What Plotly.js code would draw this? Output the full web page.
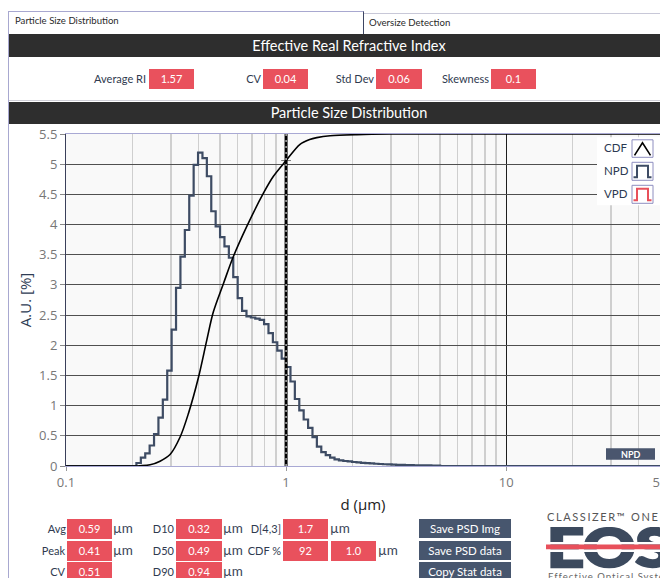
<!DOCTYPE html>
<html><head><meta charset="utf-8">
<script src="https://cdn.plot.ly/plotly-3.0.1.min.js"></script>
<style>
html,body{margin:0;padding:0;background:#fff;}
body{width:660px;height:578px;overflow:hidden;position:relative;font-family:Lato,"Noto Sans",sans-serif;color:#2f3a4f;}
.a{position:absolute;white-space:nowrap;}
.hdr{position:absolute;left:9px;width:680px;background:#2e2e2e;color:#fff;text-align:center;font-size:14.5px;}
.red{position:absolute;background:#e9515d;color:#fff;font-size:11px;text-align:center;line-height:20px;height:20px;}
.lbl{position:absolute;font-size:11px;color:#2f3a4f;text-align:right;line-height:20px;height:20px;white-space:nowrap;}
.um{position:absolute;font-size:13.5px;color:#3b4659;line-height:20px;height:20px;}
.btn{position:absolute;left:419px;width:92px;height:19px;line-height:19px;background:#47566e;color:#fff;font-size:11.5px;text-align:center;}
</style></head>
<body>
<!-- tabs -->
<div class="a" style="left:8px;top:11px;width:354px;height:22px;border-top:1px solid #a8a8d0;border-left:1px solid #a8a8d0;border-right:1px solid #3d4663;background:#fff;"></div>
<div class="a" style="left:15px;top:15px;font-size:9.6px;color:#2a2a2a;">Particle Size Distribution</div>
<div class="a" style="left:364px;top:13px;width:300px;height:20px;border-top:1px solid #c8c8d8;border-bottom:1px solid #a8a8c0;background:#fff;"></div>
<div class="a" style="left:369px;top:17px;font-size:9.6px;color:#2a2a2a;">Oversize Detection</div>
<!-- left border -->
<div class="a" style="left:8px;top:33px;width:1px;height:545px;background:#a8a8d0;"></div>
<!-- header 1 -->
<div class="hdr" style="top:34px;height:23px;line-height:23px;">Effective Real Refractive Index</div>
<div class="lbl" style="left:60px;width:86px;top:69px;">Average RI</div>
<div class="red" style="left:149px;width:45px;top:69px;">1.57</div>
<div class="lbl" style="left:230px;width:31px;top:69px;">CV</div>
<div class="red" style="left:263px;width:45px;top:69px;">0.04</div>
<div class="lbl" style="left:320px;width:54px;top:69px;">Std Dev</div>
<div class="red" style="left:376px;width:46px;top:69px;">0.06</div>
<div class="lbl" style="left:430px;width:59px;top:69px;">Skewness</div>
<div class="red" style="left:491px;width:45px;top:69px;">0.1</div>
<div class="a" style="left:9px;top:100px;width:660px;height:1px;background:#d0d0d8;"></div>
<!-- header 2 -->
<div class="hdr" style="top:102px;height:22px;line-height:22px;">Particle Size Distribution</div>
<!-- chart -->
<div id="chart" class="a" style="left:9px;top:124px;width:680px;height:390px;"></div>
<!-- stats -->
<div class="lbl" style="left:20px;width:46px;top:519px;">Avg</div>
<div class="red" style="left:67px;width:45px;top:519px;">0.59</div>
<div class="um" style="left:113px;top:518px;">µm</div>
<div class="lbl" style="left:20px;width:45px;top:541px;">Peak</div>
<div class="red" style="left:67px;width:45px;top:541px;">0.41</div>
<div class="um" style="left:113px;top:540px;">µm</div>
<div class="lbl" style="left:20px;width:45px;top:562px;">CV</div>
<div class="red" style="left:67px;width:45px;top:562px;">0.51</div>

<div class="lbl" style="left:130px;width:44px;top:519px;">D10</div>
<div class="red" style="left:176px;width:46px;top:519px;">0.32</div>
<div class="um" style="left:223px;top:518px;">µm</div>
<div class="lbl" style="left:130px;width:44px;top:541px;">D50</div>
<div class="red" style="left:176px;width:46px;top:541px;">0.49</div>
<div class="um" style="left:223px;top:540px;">µm</div>
<div class="lbl" style="left:130px;width:44px;top:562px;">D90</div>
<div class="red" style="left:176px;width:46px;top:562px;">0.94</div>
<div class="um" style="left:223px;top:561px;">µm</div>

<div class="lbl" style="left:240px;width:41px;top:519px;">D[4,3]</div>
<div class="red" style="left:283px;width:45px;top:519px;">1.7</div>
<div class="um" style="left:330px;top:518px;">µm</div>
<div class="lbl" style="left:240px;width:41px;top:541px;">CDF %</div>
<div class="red" style="left:283px;width:45px;top:541px;">92</div>
<div class="red" style="left:331px;width:45px;top:541px;">1.0</div>
<div class="um" style="left:378px;top:540px;">µm</div>
<!-- buttons -->
<div class="btn" style="top:519px;">Save PSD Img</div>
<div class="btn" style="top:541px;">Save PSD data</div>
<div class="btn" style="top:562px;">Copy Stat data</div>
<!-- logo -->
<div class="a" style="left:547px;top:510px;font-size:11px;line-height:13px;letter-spacing:1.6px;color:#555;">CLASSIZER™ ONE</div>
<svg class="a" style="left:546px;top:527px;" width="130" height="42">
  <text x="1" y="40" font-family="Lato" font-weight="900" font-size="54" fill="#3c4a5e" stroke="#3c4a5e" stroke-width="2.5" textLength="124" lengthAdjust="spacingAndGlyphs">EOS</text>
  <rect x="0" y="15" width="130" height="2.5" fill="#fff"/>
  <rect x="0" y="17.5" width="130" height="5" fill="#e8505b"/>
  <rect x="0" y="22.5" width="130" height="2.5" fill="#fff"/>
</svg>
<div class="a" style="left:548px;top:571px;font-size:9.5px;line-height:11px;letter-spacing:1px;color:#666;">Effective Optical Systems</div>

<script>
// ---- data ----
// NPD bin left edges (µm) and heights (A.U. %)
const npdD = [0.1, 0.2089, 0.2188, 0.2291, 0.2399, 0.2512, 0.2630, 0.2754, 0.2884, 0.3020, 0.3162,
  0.3311, 0.3467, 0.3631, 0.3802, 0.3981, 0.4169, 0.4365, 0.4571, 0.4786, 0.5012,
  0.5248, 0.5495, 0.5754, 0.6026, 0.6310, 0.6607, 0.6918, 0.7244, 0.7586, 0.7943,
  0.8318, 0.8710, 0.9120, 0.9550, 1.0, 1.047, 1.096, 1.148, 1.202, 1.259,
  1.318, 1.380, 1.445, 1.514, 1.585, 1.660, 1.738, 1.820, 1.905, 1.995,
  2.089, 2.188, 2.291, 2.399, 2.512, 2.630, 2.754, 2.884, 3.020, 3.162,
  3.311, 3.467, 3.631, 3.802, 3.981, 4.169, 4.365, 4.571, 4.786, 5.012, 50];
const npdVal = [0, 0.05, 0.14, 0.21, 0.34, 0.53, 0.80, 1.10, 1.58, 2.26, 2.95,
  3.47, 3.91, 4.48, 4.99, 5.19, 5.10, 4.80, 4.22, 3.97, 3.79,
  3.64, 3.45, 3.13, 2.78, 2.57, 2.48, 2.46, 2.44, 2.42, 2.35,
  2.20, 2.05, 1.91, 1.78, 1.64, 1.40, 1.11, 0.92, 0.77, 0.63,
  0.48, 0.32, 0.23, 0.18, 0.14, 0.11, 0.094, 0.083, 0.075, 0.066,
  0.060, 0.053, 0.047, 0.042, 0.037, 0.033, 0.029, 0.026, 0.023, 0.020,
  0.018, 0.016, 0.014, 0.012, 0.011, 0.010, 0.009, 0.008, 0.007, 0, 0];
// CDF curve (scaled to axis 0..5.5)
const cdfD = [0.1, 0.2, 0.217, 0.241, 0.2675, 0.297, 0.330, 0.360, 0.400, 0.436, 0.467,
  0.519, 0.576, 0.663, 0.789, 0.876, 1.0, 1.157, 1.28, 1.379, 1.585, 2.095, 2.97, 50];
const cdfVal = [0, 0, 0.005, 0.02, 0.08, 0.19, 0.48, 0.87, 1.47, 2.08, 2.55,
  3.02, 3.47, 3.97, 4.52, 4.80, 5.06, 5.33, 5.41, 5.44, 5.47, 5.49, 5.5, 5.5];
const cursorD = [1.0];
const cursorCDF = [5.06];
const xTickVals = [0.1, 1, 10, 50];
const xTickText = ['0.1', '1', '10', '50'];
const xMinorVals = [0.2,0.3,0.4,0.5,0.6,0.7,0.8,0.9,2,3,4,5,6,7,8,9,20,30,40];
const legendNames = ['CDF', 'NPD', 'VPD'];

// ---- layout helpers (pixel -> paper) ----
const PL = 66, PW = 594, PB = 465.7, PH = 332;
const px = x => (x - PL) / PW;
const py = y => (PB - y) / PH;
const path = pts => pts.map((p, i) => (i ? 'L' : 'M') + px(p[0]).toFixed(4) + ',' + py(p[1]).toFixed(4)).join(' ');

const traces = [
  {x: npdD, y: npdVal, type: 'scatter', mode: 'lines', line: {shape: 'hv', color: '#3e4c64', width: 2.2}, name: 'NPD', hoverinfo: 'skip'},
  {x: cdfD, y: cdfVal, type: 'scatter', mode: 'lines', line: {shape: 'spline', smoothing: 0.9, color: '#000', width: 1.6}, name: 'CDF', hoverinfo: 'skip'},
  {x: cursorD, y: cursorCDF, type: 'scatter', mode: 'markers', marker: {symbol: 'cross-thin-open', size: 7, color: '#777', line: {color: '#777', width: 1}}, hoverinfo: 'skip'}
];

const lineColor = ['#000', '#3e4c64', '#e8505b'];
const shapes = [
  {type: 'line', xref: 'x', yref: 'paper', x0: 1, x1: 1, y0: 0, y1: 1, line: {color: '#000', width: 3}},
  {type: 'line', xref: 'x', yref: 'paper', x0: 1, x1: 1, y0: 0, y1: 1, line: {color: '#fff', width: 1, dash: '2px,4px'}},
  // legend background
  {type: 'rect', xref: 'paper', yref: 'paper', x0: px(597), x1: 1, y0: py(205), y1: py(137), fillcolor: '#fff', line: {width: 0}},
  // icon boxes
  {type: 'rect', xref: 'paper', yref: 'paper', x0: px(632), x1: px(653), y0: py(157), y1: py(139.5), fillcolor: '#fff', line: {color: '#8e8ec0', width: 1}},
  {type: 'rect', xref: 'paper', yref: 'paper', x0: px(632), x1: px(653), y0: py(180), y1: py(162), fillcolor: '#fff', line: {color: '#8e8ec0', width: 1}},
  {type: 'rect', xref: 'paper', yref: 'paper', x0: px(632), x1: px(653), y0: py(203), y1: py(185), fillcolor: '#fff', line: {color: '#8e8ec0', width: 1}},
  {type: 'path', xref: 'paper', yref: 'paper', path: path([[634.5,155],[642.5,142.5],[650.5,155]]), line: {color: lineColor[0], width: 1.6}},
  {type: 'path', xref: 'paper', yref: 'paper', path: path([[633.5,177],[637,177],[637,165.5],[648,165.5],[648,177],[651.5,177]]), line: {color: lineColor[1], width: 2}},
  {type: 'path', xref: 'paper', yref: 'paper', path: path([[633.5,200],[637,200],[637,188.5],[648,188.5],[648,200],[651.5,200]]), line: {color: lineColor[2], width: 2}},
  // NPD toggle button
  {type: 'rect', xref: 'paper', yref: 'paper', x0: px(606), x1: px(655), y0: py(459.5), y1: py(448), fillcolor: '#4a566e', line: {width: 0}}
];

const annotations = legendNames.map((n, i) => ({
  xref: 'paper', yref: 'paper', x: px(602), y: py([147.5, 170.5, 193][i]), xanchor: 'left', yanchor: 'middle',
  text: n, showarrow: false, font: {family: 'Lato', size: 11.5, color: '#2c3a52'}
}));
annotations.push({xref: 'paper', yref: 'paper', x: px(630.5), y: py(454), xanchor: 'center', yanchor: 'middle',
  text: '<b>NPD</b>', showarrow: false, font: {family: 'Lato', size: 9, color: '#fff'}});

const layout = {
  width: 680, height: 390,
  margin: {l: 57, r: 29, t: 10, b: 48},
  paper_bgcolor: 'rgba(0,0,0,0)', plot_bgcolor: '#f9f9f9',
  showlegend: false,
  font: {family: 'Open Sans', size: 13, color: '#777'},
  xaxis: {
    type: 'log', range: [-1, Math.log10(50)], tickvals: xTickVals, ticktext: xTickText,
    ticks: 'outside', ticklen: 4, tickcolor: '#999', showgrid: true, gridcolor: '#1e1e1e', gridwidth: 1,
    showline: true, linecolor: '#a9a9d4', linewidth: 1, mirror: true, zeroline: false, automargin: false,
    tickfont: {family: 'Open Sans', size: 13, color: '#777'},
    minor: {tickvals: xMinorVals, showgrid: true, gridcolor: '#cfcfcf', gridwidth: 1.4, ticks: ''},
    title: {text: 'd (µm)', font: {family: 'Open Sans', size: 15, color: '#222'}, standoff: 10}
  },
  yaxis: {
    range: [0, 5.5], tick0: 0, dtick: 0.5, ticks: 'outside', ticklen: 5, tickcolor: '#888',
    showgrid: true, gridcolor: '#505050', gridwidth: 1, showline: true, linecolor: '#3a3f5a', linewidth: 1,
    zeroline: false, automargin: false,
    tickfont: {family: 'Open Sans', size: 13, color: '#777'},
    title: {text: 'A.U. [%]', font: {family: 'Open Sans', size: 15, color: '#2f3d55'}, standoff: 3}
  },
  shapes: shapes,
  annotations: annotations
};

Plotly.newPlot('chart', traces, layout, {displayModeBar: false, staticPlot: true});
</script>
</body></html>
